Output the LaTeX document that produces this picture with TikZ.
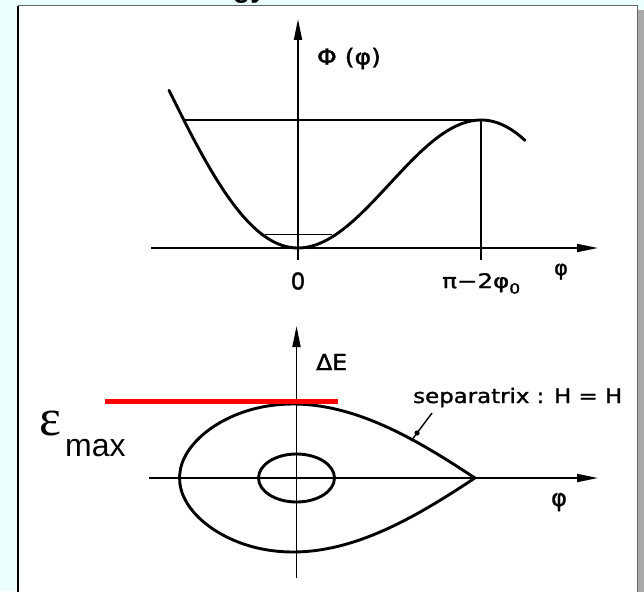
\documentclass[tikz,border=0pt]{standalone}
\usepackage{fontspec}
\usepackage{graphicx}
\setmainfont{DejaVu Sans}
\newfontfamily\labf[FakeBold=1.3]{DejaVu Sans}
\newfontfamily\lsans{Liberation Sans}
\newfontfamily\lserif{Liberation Serif}
\usetikzlibrary{arrows.meta}
\definecolor{bgc}{RGB}{236,255,255}
\definecolor{shadowc}{RGB}{170,170,170}
\begin{document}
\begin{tikzpicture}[x=1pt,y=-1pt,
  axis/.style={line width=1.8pt,-{Triangle[length=21pt,width=8pt]}},
  curve/.style={line width=2.9pt,line join=round,line cap=round},
  guide/.style={line width=1.4pt},
  lab/.style={inner sep=0pt,font=\labf\fontsize{20}{22}\selectfont}]
\useasboundingbox (0,0) rectangle (644,591);
\clip (0,0) rectangle (644,591);
\fill[bgc] (0,0) rectangle (644,591);
\fill[shadowc] (637,10) rectangle (644,600);
\fill[white] (18.3,5.7) rectangle (637.5,600);
\draw[black!60,line width=1.5pt] (18.3,5.7) -- (637.5,5.7) -- (637.5,600);
\draw[black,line width=2pt] (18.3,600) -- (18.3,5.7);
\node[anchor=base west,inner sep=0pt,font=\lsans\bfseries\fontsize{28}{30}\selectfont] (title) at (233,-2) {gy};
% ---------- upper plot ----------
\def\ps{0.315}
\coordinate (uO) at (298,248);
\coordinate (uB) at (298,260);
\coordinate (uT) at (298,19);
\coordinate (uL) at (151,248);
\coordinate (uR) at (598,248);
\draw[axis] (uB) -- (uT);
\draw[axis] (uL) -- (uR);
\draw[curve] plot[domain=-1.7705:3.116,samples=160,smooth,variable=\t]
  ({298+72.86*\t},{248-113.93*(cos(deg(\ps))-cos(deg(\t+\ps))-\t*sin(deg(\ps)))});
\coordinate (mxL) at (183,120);
\coordinate (mx) at (481,120);
\coordinate (mxB) at (481,260);
\draw[guide] (mxL) -- (mx) -- (mxB);
\coordinate (smL) at (265,234.3);
\coordinate (smR) at (332,234.3);
\draw[guide] (smL) -- (smR);
\node[lab,font=\labf\fontsize{22}{24}\selectfont] (phiU) at (349,58.5) {\resizebox{64pt}{\height}{Φ (φ)}};
\node[lab,font=\labf\fontsize{23}{25}\selectfont] (zero) at (298,281) {0};
\node[lab,anchor=base west] (pimin) at (442,288) {\resizebox{78pt}{\height}{π−2φ\raisebox{-0.28em}{\fontsize{14}{14}\selectfont 0}}};
\node[lab,font=\labf\fontsize{21}{23}\selectfont] (phiax) at (561,271.6) {φ};
% ---------- lower plot ----------
\coordinate (lB) at (296.5,578);
\coordinate (lT) at (296.5,326);
\coordinate (lL) at (149,478);
\coordinate (lR) at (598,478);
\draw[axis] (lB) -- (lT);
\draw[axis] (lL) -- (lR);
\pgfmathsetmacro\Um{2*cos(deg(\ps))-(pi-2*\ps)*sin(deg(\ps))}
\draw[curve] plot[domain=-1.567:2.5116,samples=300,variable=\t]
  ({293+72.4*\t},{478-69.8*sqrt(max(0,\Um-(cos(deg(\ps))-cos(deg(\t+\ps))-\t*sin(deg(\ps)))))})
  -- plot[domain=2.5116:-1.567,samples=300,variable=\t]
  ({293+72.4*\t},{478+69.8*sqrt(max(0,\Um-(cos(deg(\ps))-cos(deg(\t+\ps))-\t*sin(deg(\ps)))))}) -- cycle;
\draw[curve] (296.5,478) ellipse [x radius=38pt,y radius=24pt];
\node[lab,anchor=base west,font=\labf\fontsize{22}{24}\selectfont] (dE) at (316,370) {\resizebox{31pt}{\height}{ΔE}};
\node[lab,font=\labf\fontsize{24}{26}\selectfont] (phiax2) at (559,502) {φ};
\node[lab,anchor=base west] (sep) at (413,403) {\resizebox{209pt}{\height}{separatrix : H = H}};
\coordinate (ptA) at (432,413);
\coordinate (ptB) at (411,441);
\draw[guide] (ptA) -- (ptB);
\fill (417,433) circle [radius=2.6pt];
% ---------- red line and epsilon_max ----------
\coordinate (rL) at (105,401.7);
\coordinate (rR) at (337.6,401.7);
\draw[red,line width=5pt] (rL) -- (rR);
\node[anchor=base west,inner sep=0pt,font=\lserif\fontsize{52}{54}\selectfont] (eps) at (39,435) {ε};
\node[anchor=base west,inner sep=0pt,font=\lsans\fontsize{32}{34}\selectfont] (max) at (65,456) {max};
\end{tikzpicture}
\end{document}
